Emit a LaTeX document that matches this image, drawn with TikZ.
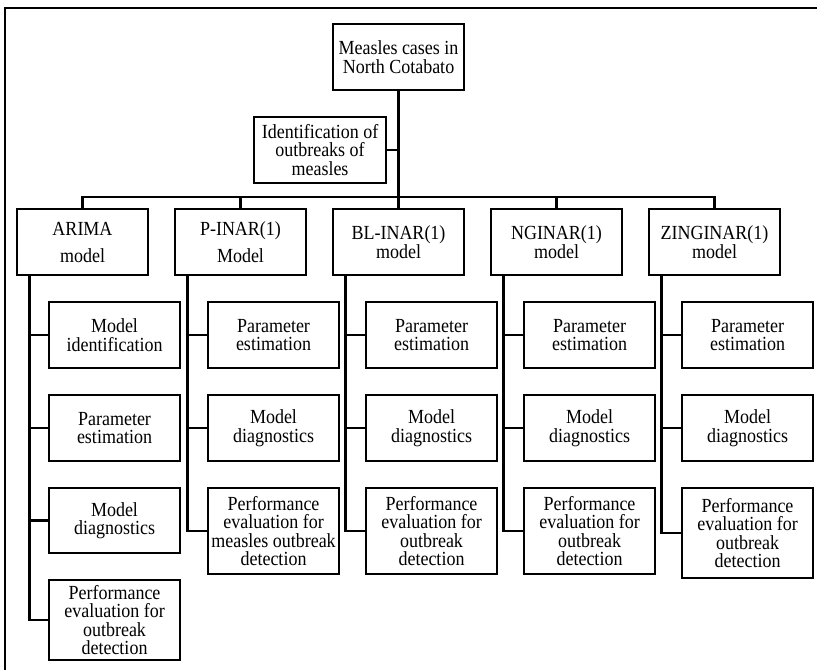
\documentclass[tikz,border=0pt]{standalone}
\usepackage{fontspec}
\setmainfont{Liberation Serif}[FakeStretch=0.9]
\begin{document}
\begin{tikzpicture}[x=1pt,y=-1pt,
  box/.style={draw, line width=2pt, rectangle, inner sep=0pt, minimum width=131pt, minimum height=66pt, align=center, font=\fontsize{20}{18.5}\selectfont},
  conn/.style={line width=2.6pt, line cap=rect},
  frameline/.style={line width=2pt}]
\useasboundingbox (0,0) rectangle (817,670);
% frame (top and left edges)
\coordinate (fc) at (5,8);
\coordinate (fr) at (817,8);
\coordinate (fb) at (5,670);
\draw[frameline] (fr) -- (fc) -- (fb);

% top level
\node[box] (top) at (398.5,57) {Measles cases in\\North Cotabato};
\node[box, minimum width=132pt] (ident) at (320,150) {Identification of\\outbreaks of\\measles};

% models
\node[box] (arima) at (82.5,242) {ARIMA\\[8.5pt]model};
\node[box] (pinar) at (240.5,242) {P-INAR(1)\\[8.5pt]Model};
\node[box] (bl) at (398.5,242) {BL-INAR(1)\\model};
\node[box] (ng) at (556.5,242) {NGINAR(1)\\model};
\node[box] (zi) at (714.5,242) {ZINGINAR(1)\\model};

% ARIMA children
\node[box] (a1) at (114.5,335) {Model\\identification};
\node[box] (a2) at (114.5,428) {Parameter\\estimation};
\node[box, minimum height=65pt] (a3) at (114.5,520.5) {Model\\diagnostics};
\node[box, minimum height=80pt] (a4) at (114.5,620) {Performance\\evaluation for\\outbreak\\detection};

% P-INAR children
\node[box] (p1) at (273.5,335) {Parameter\\estimation};
\node[box] (p2) at (273.5,428) {Model\\diagnostics};
\node[box, minimum height=86pt] (p3) at (273.5,531) {Performance\\evaluation for\\measles outbreak\\detection};

% BL-INAR children
\node[box] (b1) at (431.5,335) {Parameter\\estimation};
\node[box] (b2) at (431.5,428) {Model\\diagnostics};
\node[box, minimum height=86pt] (b3) at (431.5,531) {Performance\\evaluation for\\outbreak\\detection};

% NGINAR children
\node[box] (n1) at (589.5,335) {Parameter\\estimation};
\node[box] (n2) at (589.5,428) {Model\\diagnostics};
\node[box, minimum height=86pt] (n3) at (589.5,531) {Performance\\evaluation for\\outbreak\\detection};

% ZINGINAR children
\node[box] (z1) at (747.5,335) {Parameter\\estimation};
\node[box] (z2) at (747.5,428) {Model\\diagnostics};
\node[box, minimum height=90pt] (z3) at (747.5,533) {Performance\\evaluation for\\outbreak\\detection};

% top connectors
\coordinate (bus) at (398.5,197);
\draw[conn] (top.south) -- (bl.north);
\draw[conn] (ident.east) -- (ident.east -| top.south);
\draw[conn] (arima.north) |- (bus) -| (zi.north);
\draw[conn] (pinar.north) -- (pinar.north |- bus);
\draw[conn] (ng.north) -- (ng.north |- bus);

% column connectors
\draw[conn] ([xshift=13.5pt]arima.south west) |- (a4.west);
\foreach \c in {a1,a2,a3} \draw[conn] (\c.west) -- ++(-19,0);
\draw[conn] ([xshift=13.5pt]pinar.south west) |- (p3.west);
\foreach \c in {p1,p2} \draw[conn] (\c.west) -- ++(-19.5,0);
\draw[conn] ([xshift=13.5pt]bl.south west) |- (b3.west);
\foreach \c in {b1,b2} \draw[conn] (\c.west) -- ++(-19.5,0);
\draw[conn] ([xshift=13.5pt]ng.south west) |- (n3.west);
\foreach \c in {n1,n2} \draw[conn] (\c.west) -- ++(-19.5,0);
\draw[conn] ([xshift=13.5pt]zi.south west) |- (z3.west);
\foreach \c in {z1,z2} \draw[conn] (\c.west) -- ++(-19.5,0);
\end{tikzpicture}
\end{document}
